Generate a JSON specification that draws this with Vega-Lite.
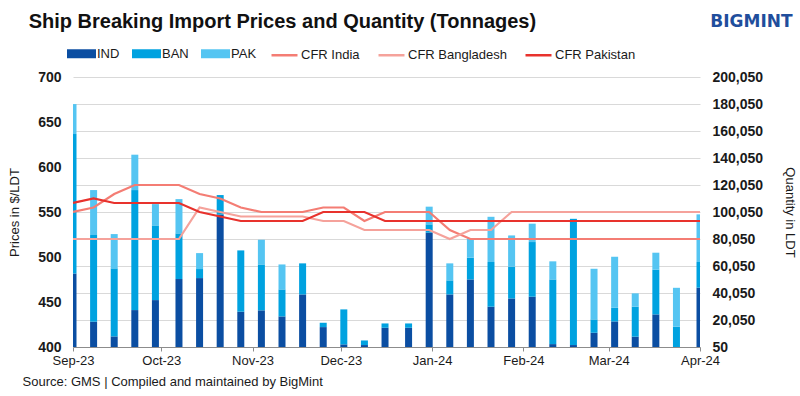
{
  "$schema": "https://vega.github.io/schema/vega-lite/v6.json",
  "background": "white",
  "padding": {"left": 8, "right": 8, "top": 12, "bottom": 6},
  "config": {
    "view": {"stroke": null},
    "font": "Liberation Sans",
    "axis": {"labelFont": "Liberation Sans", "titleFont": "Liberation Sans", "labelColor": "#1a1a1a", "titleColor": "#1a1a1a"},
    "legend": {"labelFont": "Liberation Sans", "labelFontSize": 13, "labelColor": "#1a1a1a"}
  },
  "title": {
    "text": "BIGMINT",
    "anchor": "end",
    "frame": "bounds",
    "font": "DejaVu Sans",
    "fontSize": 17,
    "fontWeight": "bold",
    "color": "#1f4e9c",
    "offset": -19,
    "dx": -3
  },
  "vconcat": [
    {
      "title": {
        "text": "Ship Breaking Import Prices and Quantity (Tonnages)",
        "anchor": "start",
        "frame": "bounds",
        "font": "Liberation Sans",
        "fontSize": 20,
        "fontWeight": "bold",
        "color": "#111111",
        "offset": 38,
        "dx": 20
      },
      "width": 627,
      "height": 270,
      "data": {
        "values": [
          {"date": "2023-09-01", "IND": 54500, "BAN": 103300, "PAK": 22200, "CFR India": 550, "CFR Bangladesh": 520, "CFR Pakistan": 560},
          {"date": "2023-09-08", "IND": 18800, "BAN": 64200, "PAK": 33300, "CFR India": 555, "CFR Bangladesh": 520, "CFR Pakistan": 565},
          {"date": "2023-09-15", "IND": 7900, "BAN": 50400, "PAK": 25400, "CFR India": 570, "CFR Bangladesh": 520, "CFR Pakistan": 560},
          {"date": "2023-09-22", "IND": 27400, "BAN": 88900, "PAK": 26200, "CFR India": 580, "CFR Bangladesh": 520, "CFR Pakistan": 560},
          {"date": "2023-09-29", "IND": 34800, "BAN": 55300, "PAK": 15800, "CFR India": 580, "CFR Bangladesh": 520, "CFR Pakistan": 560},
          {"date": "2023-10-07", "IND": 50400, "BAN": 33800, "PAK": 25400, "CFR India": 580, "CFR Bangladesh": 520, "CFR Pakistan": 560},
          {"date": "2023-10-14", "IND": 51100, "BAN": 6700, "PAK": 11800, "CFR India": 570, "CFR Bangladesh": 555, "CFR Pakistan": 550},
          {"date": "2023-10-21", "IND": 98000, "BAN": 14600, "PAK": 0, "CFR India": 565, "CFR Bangladesh": 550, "CFR Pakistan": 545},
          {"date": "2023-10-28", "IND": 26200, "BAN": 45400, "PAK": 0, "CFR India": 555, "CFR Bangladesh": 545, "CFR Pakistan": 540},
          {"date": "2023-11-04", "IND": 27200, "BAN": 34000, "PAK": 18300, "CFR India": 550, "CFR Bangladesh": 545, "CFR Pakistan": 540},
          {"date": "2023-11-11", "IND": 22700, "BAN": 20000, "PAK": 18500, "CFR India": 550, "CFR Bangladesh": 545, "CFR Pakistan": 540},
          {"date": "2023-11-18", "IND": 39000, "BAN": 23000, "PAK": 0, "CFR India": 550, "CFR Bangladesh": 545, "CFR Pakistan": 540},
          {"date": "2023-11-25", "IND": 14800, "BAN": 3200, "PAK": 0, "CFR India": 555, "CFR Bangladesh": 540, "CFR Pakistan": 550},
          {"date": "2023-12-02", "IND": 2000, "BAN": 25900, "PAK": 0, "CFR India": 555, "CFR Bangladesh": 540, "CFR Pakistan": 550},
          {"date": "2023-12-09", "IND": 1500, "BAN": 3400, "PAK": 0, "CFR India": 540, "CFR Bangladesh": 530, "CFR Pakistan": 550},
          {"date": "2023-12-16", "IND": 14300, "BAN": 3200, "PAK": 0, "CFR India": 550, "CFR Bangladesh": 530, "CFR Pakistan": 540},
          {"date": "2023-12-24", "IND": 14300, "BAN": 3200, "PAK": 0, "CFR India": 550, "CFR Bangladesh": 530, "CFR Pakistan": 540},
          {"date": "2023-12-31", "IND": 84700, "BAN": 6200, "PAK": 13100, "CFR India": 550, "CFR Bangladesh": 530, "CFR Pakistan": 540},
          {"date": "2024-01-07", "IND": 39000, "BAN": 10400, "PAK": 12600, "CFR India": 530, "CFR Bangladesh": 520, "CFR Pakistan": 540},
          {"date": "2024-01-14", "IND": 50100, "BAN": 16100, "PAK": 14300, "CFR India": 520, "CFR Bangladesh": 530, "CFR Pakistan": 540},
          {"date": "2024-01-21", "IND": 29900, "BAN": 33100, "PAK": 33500, "CFR India": 520, "CFR Bangladesh": 530, "CFR Pakistan": 540},
          {"date": "2024-01-28", "IND": 36000, "BAN": 23500, "PAK": 23200, "CFR India": 520, "CFR Bangladesh": 550, "CFR Pakistan": 540},
          {"date": "2024-02-04", "IND": 37300, "BAN": 40500, "PAK": 13600, "CFR India": 520, "CFR Bangladesh": 550, "CFR Pakistan": 540},
          {"date": "2024-02-11", "IND": 2200, "BAN": 47900, "PAK": 13400, "CFR India": 520, "CFR Bangladesh": 550, "CFR Pakistan": 540},
          {"date": "2024-02-18", "IND": 1500, "BAN": 93500, "PAK": 0, "CFR India": 520, "CFR Bangladesh": 550, "CFR Pakistan": 540},
          {"date": "2024-02-25", "IND": 10600, "BAN": 9900, "PAK": 37500, "CFR India": 520, "CFR Bangladesh": 550, "CFR Pakistan": 540},
          {"date": "2024-03-03", "IND": 19000, "BAN": 10100, "PAK": 37800, "CFR India": 520, "CFR Bangladesh": 550, "CFR Pakistan": 540},
          {"date": "2024-03-10", "IND": 7700, "BAN": 22200, "PAK": 9900, "CFR India": 520, "CFR Bangladesh": 550, "CFR Pakistan": 540},
          {"date": "2024-03-17", "IND": 24200, "BAN": 33100, "PAK": 12600, "CFR India": 520, "CFR Bangladesh": 550, "CFR Pakistan": 540},
          {"date": "2024-03-24", "IND": 0, "BAN": 15100, "PAK": 28800, "CFR India": 520, "CFR Bangladesh": 550, "CFR Pakistan": 540},
          {"date": "2024-04-01", "IND": 44000, "BAN": 19000, "PAK": 35300, "CFR India": 520, "CFR Bangladesh": 550, "CFR Pakistan": 540}
        ]
      },
      "layer": [
        {
          "transform": [
            {"fold": ["IND", "BAN", "PAK"], "as": ["series", "qty"]},
            {"lookup": "series", "from": {"data": {"values": [{"series": "IND", "stackrank": 1}, {"series": "BAN", "stackrank": 2}, {"series": "PAK", "stackrank": 3}]}, "key": "series", "fields": ["stackrank"]}}
          ],
          "mark": {"type": "bar", "width": 7, "clip": true},
          "encoding": {
            "x": {
              "field": "date",
              "type": "temporal",
              "scale": {"type": "utc", "padding": 0, "domain": [{"year": 2023, "month": 9, "date": 1, "utc": true}, {"year": 2024, "month": 4, "date": 1, "utc": true}]},
              "axis": {
                "values": [
                  {"year": 2023, "month": 9, "date": 1, "utc": true},
                  {"year": 2023, "month": 10, "date": 1, "utc": true},
                  {"year": 2023, "month": 11, "date": 1, "utc": true},
                  {"year": 2023, "month": 12, "date": 1, "utc": true},
                  {"year": 2024, "month": 1, "date": 1, "utc": true},
                  {"year": 2024, "month": 2, "date": 1, "utc": true},
                  {"year": 2024, "month": 3, "date": 1, "utc": true},
                  {"year": 2024, "month": 4, "date": 1, "utc": true}
                ],
                "format": "%b-%y",
                "grid": false,
                "labelFontSize": 13,
                "labelFlush": false,
                "labelPadding": 3,
                "tickSize": 4,
                "tickColor": "#8c8c8c",
                "domainColor": "#8c8c8c",
                "title": "Source: GMS | Compiled and maintained by BigMint",
                "titleFontSize": 13,
                "titleFontWeight": "normal",
                "titleAnchor": "start",
                "titleAlign": "left",
                "titleBaseline": "alphabetic",
                "titleX": -51,
                "titleY": 38
              }
            },
            "y": {
              "field": "qty",
              "type": "quantitative",
              "stack": "zero",
              "scale": {"domain": [50, 200050], "nice": false, "zero": false},
              "axis": {
                "orient": "right",
                "values": [50, 20050, 40050, 60050, 80050, 100050, 120050, 140050, 160050, 180050, 200050],
                "format": ",.0f",
                "grid": true,
                "gridColor": "#d9d9d9",
                "ticks": false,
                "domain": false,
                "labelFontSize": 14,
                "labelFontWeight": "bold",
                "labelPadding": 12,
                "title": "Quantity in LDT",
                "titleFontSize": 13,
                "titleFontWeight": "normal",
                "titlePadding": 20
              }
            },
            "order": {"field": "stackrank", "type": "quantitative", "sort": "ascending"},
            "fill": {
              "field": "series",
              "type": "nominal",
              "sort": ["IND", "BAN", "PAK"],
              "scale": {"domain": ["IND", "BAN", "PAK"], "range": ["#0b4ea2", "#00a2e0", "#55c5f2"]},
              "legend": {
                "orient": "none",
                "legendX": -6,
                "legendY": -38,
                "direction": "horizontal",
                "title": null,
                "symbolType": "M-1,-0.31H1V0.31H-1Z",
                "symbolSize": 841,
                "symbolStrokeWidth": 0,
                "labelOffset": 1,
                "columnPadding": 12
              }
            }
          }
        },
        {
          "transform": [{"fold": ["CFR India", "CFR Bangladesh", "CFR Pakistan"], "as": ["cfr", "price"]}],
          "mark": {"type": "line", "strokeWidth": 2.2, "clip": true},
          "encoding": {
            "x": {
              "field": "date",
              "type": "temporal",
              "scale": {"type": "utc", "padding": 0, "domain": [{"year": 2023, "month": 9, "date": 1, "utc": true}, {"year": 2024, "month": 4, "date": 1, "utc": true}]}
            },
            "y": {
              "field": "price",
              "type": "quantitative",
              "scale": {"domain": [400, 700], "nice": false, "zero": false},
              "axis": {
                "orient": "left",
                "values": [400, 450, 500, 550, 600, 650, 700],
                "grid": false,
                "ticks": false,
                "domain": false,
                "labelFontSize": 14,
                "labelFontWeight": "bold",
                "labelPadding": 12,
                "title": "Prices in $/LDT",
                "titleFontSize": 13,
                "titleFontWeight": "normal",
                "titlePadding": 16
              }
            },
            "stroke": {
              "field": "cfr",
              "type": "nominal",
              "sort": ["CFR India", "CFR Bangladesh", "CFR Pakistan"],
              "scale": {"domain": ["CFR India", "CFR Bangladesh", "CFR Pakistan"], "range": ["#f47d74", "#f5a29b", "#e8322d"]},
              "legend": {
                "orient": "none",
                "legendX": 197,
                "legendY": -36.5,
                "direction": "horizontal",
                "title": null,
                "symbolType": "stroke",
                "symbolSize": 676,
                "symbolStrokeWidth": 2.5,
                "labelOffset": 2,
                "columnPadding": 13
              }
            }
          }
        }
      ],
      "resolve": {"scale": {"y": "independent"}}
    }
  ]
}
